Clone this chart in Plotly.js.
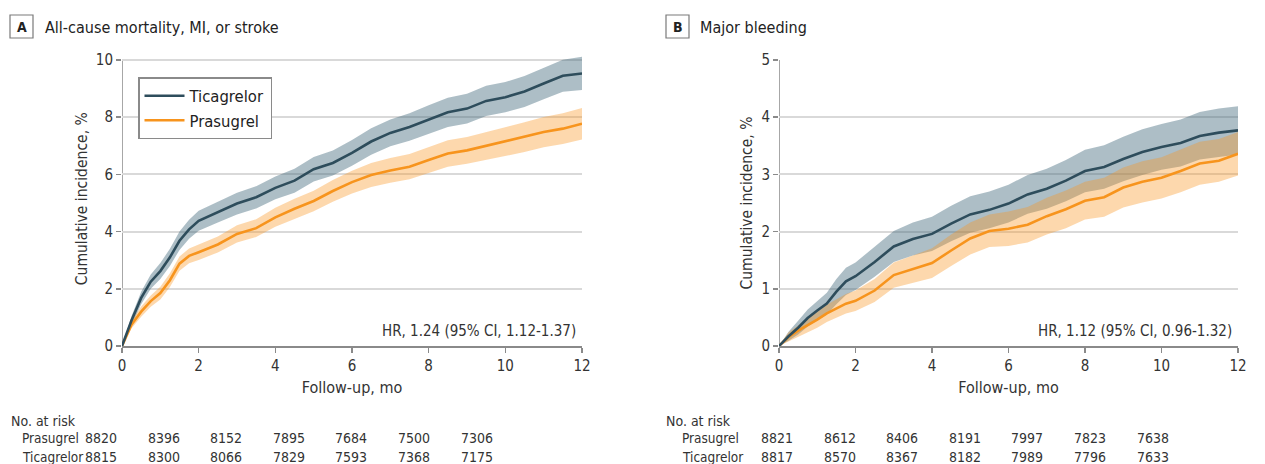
<!DOCTYPE html>
<html>
<head>
<meta charset="utf-8">
<script src="https://cdn.plot.ly/plotly-3.0.1.min.js"></script>
<style>html,body{margin:0;padding:0;background:#fff;}#chart{width:1265px;height:464px;}</style>
</head>
<body>
<div id="chart"></div>
<script>
// ---------- DATA ----------
const months = [0, 0.25, 0.5, 0.75, 1, 1.25, 1.5, 1.75, 2, 2.5, 3, 3.5, 4, 4.5, 5, 5.5, 6, 6.5, 7, 7.5, 8, 8.5, 9, 9.5, 10, 10.5, 11, 11.5, 12];

// Panel A: All-cause mortality, MI, or stroke (cumulative incidence, %)
const aTica      = [0, 0.9, 1.68, 2.25, 2.62, 3.1, 3.68, 4.08, 4.38, 4.68, 4.98, 5.2, 5.53, 5.78, 6.18, 6.4, 6.75, 7.15, 7.45, 7.66, 7.92, 8.17, 8.3, 8.57, 8.7, 8.9, 9.18, 9.45, 9.53];
const aTicaLow   = [0, 0.75, 1.46, 2.0, 2.34, 2.8, 3.36, 3.75, 4.03, 4.32, 4.6, 4.81, 5.13, 5.36, 5.75, 5.96, 6.3, 6.69, 6.98, 7.18, 7.42, 7.66, 7.78, 8.04, 8.17, 8.36, 8.63, 8.89, 8.95];
const aTicaHigh  = [0, 1.05, 1.9, 2.5, 2.9, 3.4, 4.0, 4.41, 4.73, 5.04, 5.36, 5.59, 5.93, 6.2, 6.61, 6.84, 7.2, 7.61, 7.92, 8.14, 8.42, 8.68, 8.82, 9.1, 9.23, 9.44, 9.73, 10.01, 10.11];
const aPras      = [0, 0.75, 1.2, 1.57, 1.85, 2.3, 2.88, 3.15, 3.28, 3.55, 3.92, 4.12, 4.5, 4.8, 5.07, 5.42, 5.73, 5.98, 6.14, 6.27, 6.5, 6.73, 6.84, 7.0, 7.15, 7.3, 7.48, 7.6, 7.77];
const aPrasLow   = [0, 0.62, 1.02, 1.37, 1.63, 2.06, 2.63, 2.89, 3.01, 3.27, 3.62, 3.81, 4.17, 4.45, 4.71, 5.04, 5.33, 5.56, 5.71, 5.83, 6.05, 6.27, 6.37, 6.51, 6.65, 6.78, 6.95, 7.06, 7.22];
const aPrasHigh  = [0, 0.88, 1.38, 1.77, 2.07, 2.54, 3.13, 3.41, 3.55, 3.83, 4.22, 4.43, 4.83, 5.15, 5.43, 5.8, 6.13, 6.4, 6.57, 6.71, 6.95, 7.19, 7.31, 7.49, 7.65, 7.82, 8.01, 8.14, 8.32];

// Panel B: Major bleeding (cumulative incidence, %)
const bTica      = [0, 0.17, 0.32, 0.49, 0.62, 0.74, 0.95, 1.13, 1.22, 1.47, 1.74, 1.87, 1.96, 2.14, 2.3, 2.38, 2.49, 2.65, 2.75, 2.89, 3.06, 3.13, 3.27, 3.39, 3.48, 3.55, 3.67, 3.73, 3.77];
const bTicaLow   = [0, 0.09, 0.2, 0.34, 0.45, 0.55, 0.73, 0.89, 0.98, 1.21, 1.47, 1.58, 1.66, 1.83, 1.98, 2.06, 2.16, 2.31, 2.4, 2.53, 2.69, 2.75, 2.88, 2.99, 3.08, 3.14, 3.26, 3.31, 3.35];
const bTicaHigh  = [0, 0.25, 0.44, 0.64, 0.79, 0.93, 1.17, 1.37, 1.46, 1.73, 2.01, 2.16, 2.26, 2.45, 2.62, 2.7, 2.82, 2.99, 3.1, 3.25, 3.43, 3.51, 3.66, 3.79, 3.88, 3.96, 4.09, 4.15, 4.19];
const bPras      = [0, 0.16, 0.27, 0.36, 0.46, 0.57, 0.66, 0.74, 0.79, 0.97, 1.24, 1.34, 1.45, 1.67, 1.88, 2.01, 2.05, 2.12, 2.27, 2.39, 2.54, 2.6, 2.77, 2.87, 2.94, 3.06, 3.19, 3.24, 3.36];
const bPrasLow   = [0, 0.08, 0.17, 0.25, 0.32, 0.42, 0.5, 0.57, 0.61, 0.77, 1.02, 1.1, 1.19, 1.4, 1.6, 1.73, 1.75, 1.81, 1.95, 2.06, 2.21, 2.26, 2.42, 2.51, 2.58, 2.69, 2.82, 2.87, 2.98];
const bPrasHigh  = [0, 0.24, 0.37, 0.48, 0.6, 0.72, 0.82, 0.91, 0.97, 1.17, 1.46, 1.58, 1.71, 1.95, 2.16, 2.3, 2.35, 2.43, 2.59, 2.72, 2.87, 2.94, 3.12, 3.23, 3.3, 3.43, 3.57, 3.62, 3.74];

// Numbers at risk
const riskMonths = [0, 2, 4, 6, 8, 10, 12];
const aRiskPras = [8820, 8396, 8152, 7895, 7684, 7500, 7306];
const aRiskTica = [8815, 8300, 8066, 7829, 7593, 7368, 7175];
const bRiskPras = [8821, 8612, 8406, 8191, 7997, 7823, 7638];
const bRiskTica = [8817, 8570, 8367, 8182, 7989, 7796, 7633];

const panelTitles = ['All-cause mortality, MI, or stroke', 'Major bleeding'];
const panelLetters = ['A', 'B'];
const hrTexts = ['HR, 1.24 (95% CI, 1.12-1.37)', 'HR, 1.12 (95% CI, 0.96-1.32)'];
const seriesNames = ['Ticagrelor', 'Prasugrel'];

// ---------- STYLE ----------
const FONT = '"DejaVu Sans Condensed", "Liberation Sans Narrow", sans-serif';
const TXT = '#333333';
const TICA = '#2e4d5c';
const PRAS = '#f7941d';
const TICA_FILL = 'rgba(59,99,119,0.42)';
const PRAS_FILL = 'rgba(250,150,33,0.37)';
const AXC = '#8a8a8a';
const GRID = '#d9d9d9';

function band(x, lo, hi, xa, ya, fill) {
  return {x: x.concat(x.slice().reverse()), y: lo.concat(hi.slice().reverse()),
    xaxis: xa, yaxis: ya, type: 'scatter', mode: 'lines', fill: 'toself',
    fillcolor: fill, line: {width: 0}, hoverinfo: 'skip', showlegend: false};
}
function line(x, y, xa, ya, color, name, show) {
  return {x: x, y: y, xaxis: xa, yaxis: ya, type: 'scatter', mode: 'lines',
    line: {color: color, width: 2.6, shape: 'linear'}, name: name, showlegend: show, legendgroup: name};
}

const traces = [
  band(months, aTicaLow, aTicaHigh, 'x', 'y', TICA_FILL),
  band(months, aPrasLow, aPrasHigh, 'x', 'y', PRAS_FILL),
  band(months, bTicaLow, bTicaHigh, 'x2', 'y2', TICA_FILL),
  band(months, bPrasLow, bPrasHigh, 'x2', 'y2', PRAS_FILL),
  line(months, aPras, 'x', 'y', PRAS, seriesNames[1], false),
  line(months, aTica, 'x', 'y', TICA, seriesNames[0], true),
  line(months, bPras, 'x2', 'y2', PRAS, seriesNames[1], false),
  line(months, bTica, 'x2', 'y2', TICA, seriesNames[0], false),
  {x: [null], y: [null], xaxis: 'x', yaxis: 'y', type: 'scatter', mode: 'lines',
   line: {color: PRAS, width: 2.6}, name: seriesNames[1], showlegend: true}
];

const W = 1265, H = 464;
const px = v => v / W;
const py = v => 1 - v / H;

function xax(domain, anchor) {
  return {domain: domain, anchor: anchor, range: [0, 12], tickvals: riskMonths,
    ticks: 'outside', ticklen: 5, tickwidth: 1.5, tickcolor: AXC,
    showline: true, linecolor: AXC, linewidth: 1.5, showgrid: false, zeroline: false,
    tickfont: {family: FONT, size: 15, color: TXT},
    title: {text: 'Follow-up, mo', font: {family: FONT, size: 16, color: TXT}, standoff: 8},
    fixedrange: true};
}
function yax(domain, anchor, range, tickvals) {
  return {domain: domain, anchor: anchor, range: range, tickvals: tickvals,
    ticks: 'outside', ticklen: 5, tickwidth: 1.5, tickcolor: AXC,
    showline: false, showgrid: true, gridcolor: GRID, gridwidth: 2, zeroline: false,
    tickfont: {family: FONT, size: 15, color: TXT},
    title: {text: 'Cumulative incidence, %', font: {family: FONT, size: 15.5, color: TXT}, standoff: 4},
    fixedrange: true};
}

const y0px = 346, yTopPx = 60;
const unitA = (y0px - yTopPx) / 10;
const aTop = 10.3;
const domYA = [py(y0px), py(y0px - aTop * unitA)];
const domYB = [py(y0px), py(yTopPx)];

const annotations = [];
const shapes = [];
const starts = [{letterBox: 10, titleX: 43, table: 9, label: 20, num0: 101},
                {letterBox: 666, titleX: 698, table: 664, label: 680, num0: 777}];
const risks = [[aRiskPras, aRiskTica], [bRiskPras, bRiskTica]];
const colStep = 62.6;

[0, 1].forEach(i => {
  const s = starts[i];
  shapes.push({type: 'rect', xref: 'paper', yref: 'paper', x0: px(s.letterBox), x1: px(s.letterBox + 23),
    y0: py(38), y1: py(15), line: {color: '#7a7a7a', width: 1.2}, fillcolor: 'rgba(0,0,0,0)'});
  annotations.push({xref: 'paper', yref: 'paper', x: px(s.letterBox + 11.5), y: py(27), text: '<b>' + panelLetters[i] + '</b>',
    showarrow: false, xanchor: 'center', yanchor: 'middle', font: {family: FONT, size: 14, color: '#222'}});
  annotations.push({xref: 'paper', yref: 'paper', x: px(s.titleX), y: py(27), text: panelTitles[i],
    showarrow: false, xanchor: 'left', yanchor: 'middle', font: {family: FONT, size: 16, color: '#222'}});
  const xr = i === 0 ? 'x' : 'x2', yr = i === 0 ? 'y' : 'y2';
  shapes.push({type: 'line', xref: xr, yref: yr, x0: 0, x1: 0, y0: 0, y1: i === 0 ? 10 : 5,
    line: {color: AXC, width: 1.5}, layer: 'below'});
  annotations.push({xref: xr, yref: yr, x: 12, y: 0, text: hrTexts[i], showarrow: false,
    xanchor: 'right', yanchor: 'bottom', xshift: -4, yshift: 4, font: {family: FONT, size: 15, color: TXT}});
  annotations.push({xref: 'paper', yref: 'paper', x: px(s.table), y: py(421), text: 'No. at risk', showarrow: false,
    xanchor: 'left', yanchor: 'middle', font: {family: FONT, size: 14, color: TXT}});
  [seriesNames[1], seriesNames[0]].forEach((nm, r) => {
    const yy = py(r === 0 ? 438 : 457);
    annotations.push({xref: 'paper', yref: 'paper', x: px(s.label), y: yy, text: nm, showarrow: false,
      xanchor: 'left', yanchor: 'middle', font: {family: FONT, size: 13.5, color: TXT}});
    risks[i][r].forEach((v, k) => {
      annotations.push({xref: 'paper', yref: 'paper', x: px(s.num0 + k * colStep), y: yy, text: String(v), showarrow: false,
        xanchor: 'center', yanchor: 'middle', font: {family: FONT, size: 14, color: TXT}});
    });
  });
});

const layout = {
  width: W, height: H, margin: {l: 0, r: 0, t: 0, b: 0},
  paper_bgcolor: '#fff', plot_bgcolor: '#fff',
  font: {family: FONT, color: TXT},
  xaxis: xax([px(122), px(582)], 'y'),
  yaxis: yax(domYA, 'x', [0, aTop], [0, 2, 4, 6, 8, 10]),
  xaxis2: xax([px(779), px(1238)], 'y2'),
  yaxis2: yax(domYB, 'x2', [0, 5], [0, 1, 2, 3, 4, 5]),
  showlegend: true,
  legend: {x: px(138), y: py(77), xanchor: 'left', yanchor: 'top', bgcolor: '#fff',
    bordercolor: '#8a8a8a', borderwidth: 1.5, font: {family: FONT, size: 16.5, color: '#222'},
    traceorder: 'normal', itemwidth: 40},
  annotations: annotations, shapes: shapes
};

Plotly.newPlot('chart', traces, layout, {displayModeBar: false, staticPlot: true});
</script>
</body>
</html>
